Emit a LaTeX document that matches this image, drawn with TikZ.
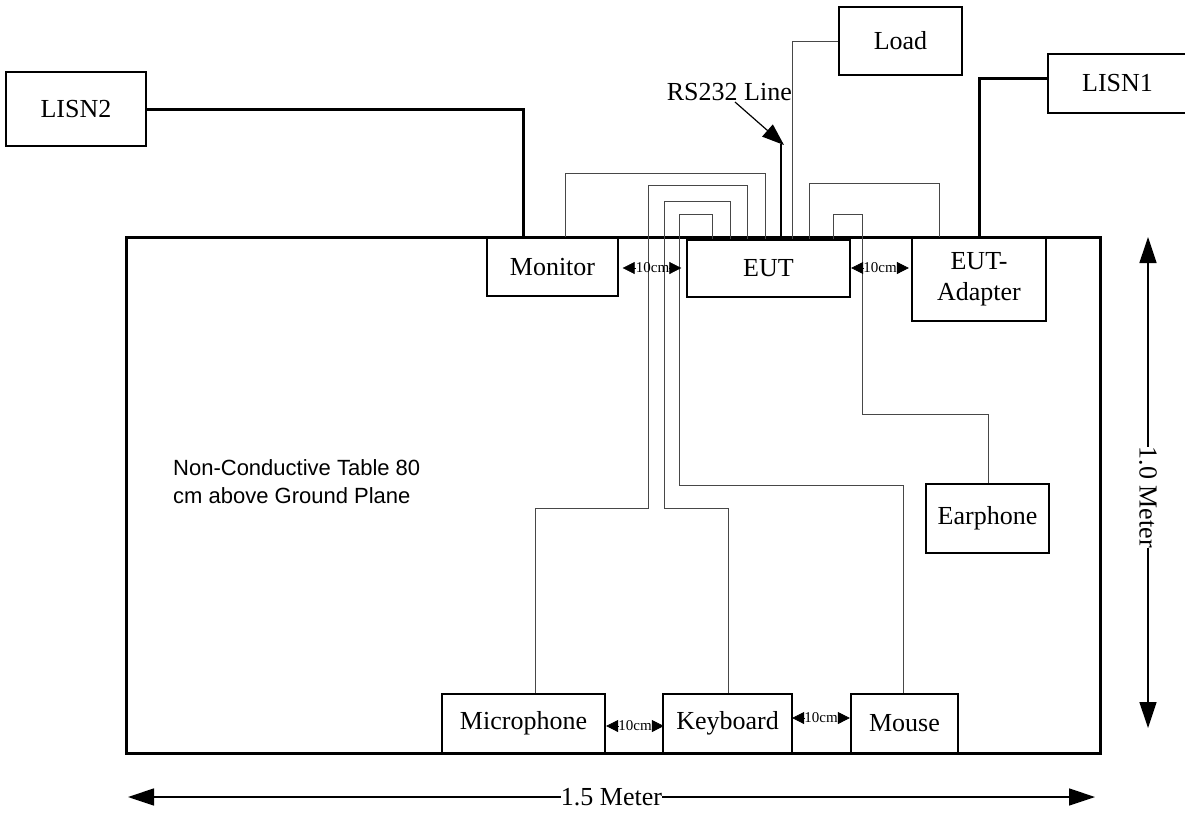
\documentclass[tikz,border=0pt]{standalone}
\usepackage{fontspec}
\setmainfont{Liberation Serif}
\newfontfamily\arialfont{Liberation Sans}
\usetikzlibrary{arrows.meta}
\begin{document}
\begin{tikzpicture}[x=1pt,y=-1pt,
  box/.style={draw,fill=white,line width=1.5pt,inner sep=0pt,align=center,font=\fontsize{26}{31}\selectfont},
  cable/.style={draw=black!72,line width=1pt},
  power/.style={line width=3pt},
  tableedge/.style={line width=3pt},
  dimline/.style={line width=1.5pt,{Triangle[length=26pt,width=17pt]}-{Triangle[length=26pt,width=17pt]}},
  tenlbl/.style={inner sep=0pt,font=\fontsize{15}{15}\selectfont},
  tentip/.style={line width=0.6pt,-{Triangle[length=12pt,width=12pt]}},
  lbl/.style={inner sep=0pt,font=\fontsize{26}{31}\selectfont}]
\useasboundingbox (0,0) rectangle (1185,814);
\clip (0,0) rectangle (1185,814);

% table
\draw[tableedge] (126,237) rectangle (1100,753);

% boxes
\node[box,minimum width=140pt,minimum height=74pt] (lisn2) at (76,109) {LISN2};
\node[box,minimum width=123pt,minimum height=68pt] (load) at (900.5,41) {Load};
\node[box,minimum width=139pt,minimum height=59pt] (lisn1) at (1117.5,83.5) {LISN1};
\node[box,minimum width=131pt,minimum height=58pt] (mon) at (552.5,267) {Monitor};
\node[box,minimum width=163pt,minimum height=57pt] (eut) at (768.5,268.5) {EUT};
\node[box,minimum width=134pt,minimum height=83pt] (adp) at (979,279.5) {EUT-\\Adapter};
\node[box,minimum width=123pt,minimum height=69pt] (ear) at (987.5,518.5) {Earphone};
\node[box,minimum width=163pt,minimum height=59pt] (mic) at (523.5,723.5) {Microphone};
\node[box,minimum width=129pt,minimum height=59pt] (kbd) at (727.5,723.5) {Keyboard};
\node[box,minimum width=107pt,minimum height=59pt] (mouse) at (904.5,723.5) {Mouse};

% power cables
\draw[power] (lisn2.east) -| ([xshift=-29.5pt]mon.north);
\draw[power] (adp.north) |- ([yshift=5.5pt]lisn1.west);

% signal cables
\draw[cable] ([xshift=12.5pt]mon.north) |- (765,173) -- ([xshift=-3.5pt]eut.north);
\draw[cable] ([xshift=-21.5pt]eut.north) |- (648,185) -- (648,508) -| ([xshift=11.5pt]mic.north);
\draw[cable] ([xshift=-38.5pt]eut.north) |- (664,201) -- (664,508) -| ([xshift=0.5pt]kbd.north);
\draw[cable] ([xshift=-56.5pt]eut.north) |- (679,214) -- (679,485) -| ([xshift=-1.5pt]mouse.north);
\draw[cable] ([xshift=64.5pt]eut.north) |- (862,214) -- (862,414) -| ([xshift=0.5pt]ear.north);
\draw[cable] ([xshift=40.5pt]eut.north) |- (939,183) -- ([xshift=-40pt]adp.north);
\draw[cable] ([xshift=23.5pt]eut.north) |- (load.west);
\coordinate (rstop) at (781,144);
\draw[line width=1.2pt] ([xshift=12.5pt]eut.north) -- (rstop);

% RS232 label
\node[lbl,anchor=east] (rs) at (792,92) {RS232 Line};
\coordinate (rsa) at (735,102);
\draw[line width=1.2pt,-{Triangle[length=22pt,width=16pt]}] (rsa) -- ([xshift=3pt,yshift=-1pt]rstop);

% 10cm spacings
\node[tenlbl] (t1) at (652.5,268) {10cm};
\draw[tentip] (t1.west) -- ++(-13,0);
\draw[tentip] (t1.east) -- ++(12,0);
\node[tenlbl] (t2) at (880,268) {10cm};
\draw[tentip] (t2.west) -- ++(-12,0);
\draw[tentip] (t2.east) -- ++(12,0);
\node[tenlbl] (t3) at (635,726) {10cm};
\draw[tentip] (t3.west) -- ++(-12,0);
\draw[tentip] (t3.east) -- ++(12,0);
\node[tenlbl] (t4) at (821,718) {10cm};
\draw[tentip] (t4.west) -- ++(-12,0);
\draw[tentip] (t4.east) -- ++(12,0);

% table text
\node[inner sep=0pt,anchor=north west,align=left,font=\arialfont\fontsize{22}{28}\selectfont] (tbl) at (173,459) {Non-Conductive Table 80\\cm above Ground Plane};

% dimensions
\coordinate (hl) at (128,797);
\coordinate (hr) at (1095,797);
\draw[dimline] (hl) -- node[lbl,fill=white,pos=0.5] (hw) {1.5 Meter} (hr);
\coordinate (vt) at (1148,237);
\coordinate (vb) at (1148,728);
\draw[dimline] (vt) -- node[lbl,fill=white,rotate=-90,pos=0.53] (vh) {1.0 Meter} (vb);
\end{tikzpicture}
\end{document}
